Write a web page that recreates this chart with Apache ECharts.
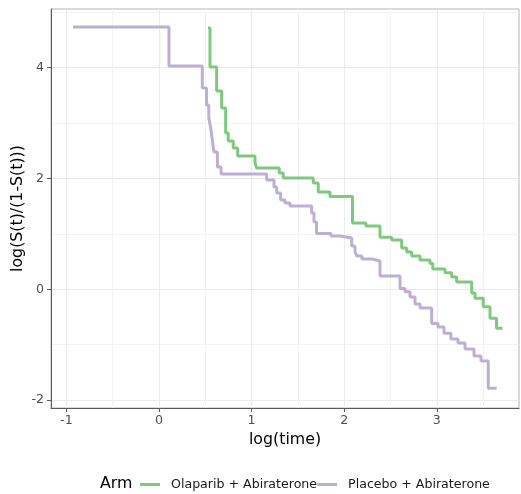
<!DOCTYPE html>
<html>
<head>
<meta charset="utf-8">
<script src="https://cdn.jsdelivr.net/npm/echarts@6/dist/echarts.min.js"></script>
<style>html,body{margin:0;padding:0;background:#fff;}#c{width:521px;height:494px;}</style>
</head>
<body>
<div id="c"></div>
<script>
const seriesNames = ['Olaparib + Abiraterone', 'Placebo + Abiraterone'];
const seriesColors = ['#7fc97f', '#beaed4'];

const olapX = [0.529, 0.551, 0.623, 0.677, 0.720, 0.748, 0.802, 0.850, 1.037, 1.055, 1.299, 1.342, 1.666, 1.720, 1.847, 2.090, 2.235, 2.387, 2.513, 2.621, 2.675, 2.729, 2.819, 2.927, 2.957, 3.089, 3.161, 3.215, 3.377, 3.413, 3.502, 3.575, 3.645, 3.709];
const olapY = [4.715, 4.011, 3.579, 3.272, 2.821, 2.676, 2.550, 2.406, 2.279, 2.189, 2.099, 2.008, 1.918, 1.755, 1.674, 1.195, 1.141, 0.937, 0.888, 0.744, 0.672, 0.600, 0.528, 0.464, 0.365, 0.298, 0.220, 0.130, -0.069, -0.164, -0.316, -0.525, -0.706, -0.706];

const placX = [-0.929, 0.108, 0.468, 0.513, 0.538, 0.559, 0.573, 0.594, 0.631, 0.670, 1.163, 1.242, 1.271, 1.314, 1.361, 1.415, 1.649, 1.674, 1.701, 1.857, 1.955, 2.081, 2.117, 2.138, 2.192, 2.300, 2.387, 2.603, 2.657, 2.711, 2.765, 2.819, 2.945, 3.013, 3.078, 3.153, 3.229, 3.305, 3.402, 3.477, 3.556, 3.647];
const placY = [4.735, 4.030, 3.633, 3.326, 3.091, 2.911, 2.730, 2.478, 2.207, 2.080, 1.972, 1.846, 1.737, 1.611, 1.557, 1.502, 1.376, 1.214, 1.006, 0.961, 0.925, 0.780, 0.672, 0.600, 0.545, 0.509, 0.238, 0.013, -0.045, -0.141, -0.267, -0.340, -0.619, -0.682, -0.796, -0.899, -0.971, -1.080, -1.206, -1.296, -1.789, -1.789];

const xMajor = [-1, 0, 1, 2, 3];
const xMinor = [-0.5, 0.5, 1.5, 2.5, 3.5];
const yMajor = [-2, 0, 2, 4];
const yMinor = [-1, 1, 3, 5];
const xRange = [-1.166, 3.888];
const yRange = [-2.144, 5.06];

const FONT = 'DejaVu Sans';
const pairs = (xs, ys) => xs.map((x, i) => [x, ys[i]]);

const chart = echarts.init(document.getElementById('c'), null, {renderer: 'canvas'});
chart.setOption({
  animation: false,
  backgroundColor: '#ffffff',
  grid: {left: 51, right: 2, top: 9, bottom: 86, show: true, borderColor: '#b3b3b3', borderWidth: 1, backgroundColor: '#ffffff', containLabel: false, outerBoundsMode: 'none'},
  xAxis: [
    {type: 'value', min: xRange[0], max: xRange[1], position: 'bottom',
     name: 'log(time)', nameLocation: 'middle', nameGap: 22,
     nameTextStyle: {fontFamily: FONT, fontSize: 15.8, color: '#000'},
     axisLine: {show: true, onZero: false, lineStyle: {color: '#5a5a5a', width: 1}},
     axisTick: {show: true, length: 4, customValues: xMajor, lineStyle: {color: '#5a5a5a'}},
     axisLabel: {customValues: xMajor, margin: 6, fontFamily: FONT, fontSize: 12.6, color: '#4d4d4d'},
     splitLine: {show: true, lineStyle: {color: '#ebebeb', width: 1}}},
    {type: 'value', min: xRange[0], max: xRange[1], position: 'top',
     axisLine: {show: false}, axisTick: {show: false, customValues: xMinor},
     axisLabel: {show: false, customValues: xMinor},
     splitLine: {show: true, lineStyle: {color: '#f3f3f3', width: 1}}}
  ],
  yAxis: [
    {type: 'value', min: yRange[0], max: yRange[1], position: 'left',
     name: 'log(S(t)/(1-S(t)))', nameLocation: 'middle', nameGap: 25, nameMoveOverlap: false,
     nameTextStyle: {fontFamily: FONT, fontSize: 15.8, color: '#000'},
     axisLine: {show: true, onZero: false, lineStyle: {color: '#5a5a5a', width: 1}},
     axisTick: {show: true, length: 4, customValues: yMajor, lineStyle: {color: '#5a5a5a'}},
     axisLabel: {customValues: yMajor, margin: 7, fontFamily: FONT, fontSize: 12.6, color: '#4d4d4d'},
     splitLine: {show: true, lineStyle: {color: '#ebebeb', width: 1}}},
    {type: 'value', min: yRange[0], max: yRange[1], position: 'right',
     axisLine: {show: false}, axisTick: {show: false, customValues: yMinor},
     axisLabel: {show: false, customValues: yMinor},
     splitLine: {show: true, lineStyle: {color: '#f3f3f3', width: 1}}}
  ],
  legend: {
    left: 135, top: 473, itemGap: 0, itemWidth: 20, itemHeight: 3, icon: 'rect',
    textStyle: {fontFamily: FONT, fontSize: 12.6, color: '#1a1a1a', padding: [0, 0, 0, 6]},
    data: seriesNames
  },
  graphic: [
    {type: 'text', left: 100, top: 476, style: {text: 'Arm', font: '15.8px "DejaVu Sans"', fill: '#000'}}
  ],
  series: [
    {name: seriesNames[0], type: 'line', step: 'end', xAxisIndex: 0, yAxisIndex: 0, showSymbol: false, symbol: 'none',
     color: seriesColors[0], lineStyle: {width: 3, color: seriesColors[0]}, data: pairs(olapX, olapY)},
    {name: seriesNames[1], type: 'line', step: 'end', xAxisIndex: 0, yAxisIndex: 0, showSymbol: false, symbol: 'none',
     color: seriesColors[1], lineStyle: {width: 3, color: seriesColors[1]}, data: pairs(placX, placY)}
  ]
});
</script>
</body>
</html>
